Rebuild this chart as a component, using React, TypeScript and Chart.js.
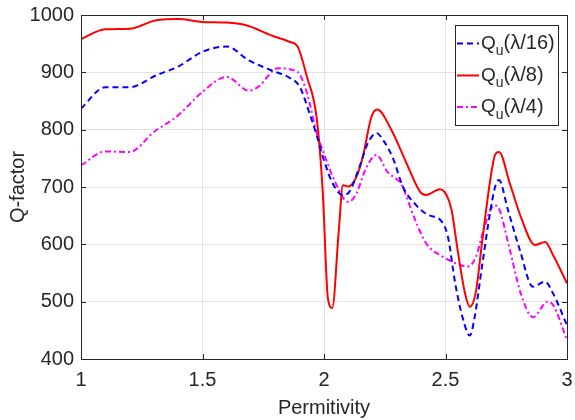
import React, { useEffect, useRef } from "react";
import { Chart, registerables } from "chart.js";

Chart.register(...registerables);

const redX = [1.0, 1.1, 1.2, 1.31, 1.4, 1.5, 1.6, 1.68, 1.78, 1.86, 1.89, 1.93, 1.97, 1.995, 2.016, 2.034, 2.06, 2.078, 2.1, 2.134, 2.16, 2.195, 2.219, 2.278, 2.34, 2.395, 2.42, 2.477, 2.504, 2.525, 2.55, 2.58, 2.6, 2.625, 2.65, 2.683, 2.704, 2.72, 2.765, 2.81, 2.868, 2.91, 2.943, 3.0];
const redY = [958, 975, 976, 991, 993, 988, 987, 982, 965, 953, 946, 892, 820, 690, 506, 489, 619, 703, 701, 718, 753, 822, 835, 799, 741, 692, 686, 696, 686, 660, 590, 515, 491, 517, 602, 709, 756, 761, 706, 648, 599, 604, 581, 532];

const blueX = [1.0, 1.1, 1.2, 1.31, 1.4, 1.5, 1.6, 1.69, 1.78, 1.86, 1.9, 1.94, 1.97, 1.995, 2.036, 2.078, 2.105, 2.146, 2.18, 2.216, 2.243, 2.284, 2.325, 2.38, 2.43, 2.48, 2.51, 2.54, 2.57, 2.6, 2.62, 2.65, 2.683, 2.704, 2.72, 2.757, 2.806, 2.86, 2.91, 2.943, 3.0];
const blueY = [837, 874, 874, 895, 910, 936, 945, 921, 904, 890, 875, 829, 790, 753, 706, 686, 692, 735, 776, 794, 782, 750, 700, 668, 651, 642, 613, 532, 473, 441, 473, 561, 654, 700, 712, 660, 590, 526, 535, 514, 459];

const magX = [1.0, 1.1, 1.2, 1.3, 1.4, 1.5, 1.6, 1.69, 1.73, 1.81, 1.89, 1.93, 1.97, 1.995, 2.036, 2.1, 2.134, 2.17, 2.216, 2.26, 2.32, 2.37, 2.42, 2.49, 2.56, 2.59, 2.625, 2.66, 2.7, 2.72, 2.765, 2.81, 2.86, 2.92, 2.943, 3.0];
const magY = [738, 762, 761, 796, 825, 866, 892, 868, 875, 907, 901, 864, 794, 764, 718, 674, 689, 730, 756, 727, 703, 648, 602, 578, 564, 561, 578, 630, 668, 662, 590, 514, 473, 500, 494, 433];

const xTicks = [1, 1.5, 2, 2.5, 3];
const yTicks = [400, 500, 600, 700, 800, 900, 1000];
const legendLabels = [
  { main: "Q", sub: "u", rest: "(λ/16)" },
  { main: "Q", sub: "u", rest: "(λ/8)" },
  { main: "Q", sub: "u", rest: "(λ/4)" },
];

const FONT = "'Liberation Sans', Arial, Helvetica, sans-serif";
const TEXT = "#262626";

const toPts = (xs: number[], ys: number[]) => xs.map((x, i) => ({ x, y: ys[i] }));

const zeroPad = (s: any) => {
  s.paddingLeft = 0;
  s.paddingRight = 0;
  s.paddingTop = 0;
  s.paddingBottom = 0;
};

const boxPlugin = {
  id: "boxPlugin",
  afterDatasetsDraw(chart: any) {
    const { ctx, chartArea: a, scales } = chart;
    ctx.save();
    ctx.strokeStyle = TEXT;
    ctx.lineWidth = 1;
    ctx.beginPath();
    xTicks.forEach((t) => {
      const px = Math.round(scales.x.getPixelForValue(t)) + 0.5;
      ctx.moveTo(px, a.bottom);
      ctx.lineTo(px, a.bottom - 5);
      ctx.moveTo(px, a.top);
      ctx.lineTo(px, a.top + 5);
    });
    yTicks.forEach((t) => {
      const py = Math.round(scales.y.getPixelForValue(t)) + 0.5;
      ctx.moveTo(a.left, py);
      ctx.lineTo(a.left + 5, py);
      ctx.moveTo(a.right, py);
      ctx.lineTo(a.right - 5, py);
    });
    ctx.stroke();
    ctx.strokeRect(Math.round(a.left) + 0.5, Math.round(a.top) + 0.5, Math.round(a.right - a.left), Math.round(a.bottom - a.top));

    // legend
    const lx = 455, ly = 25, lw = 103, lh = 100;
    ctx.fillStyle = "#ffffff";
    ctx.fillRect(lx, ly, lw, lh);
    ctx.strokeStyle = TEXT;
    ctx.strokeRect(lx + 0.5, ly + 0.5, lw, lh);
    const ds = chart.data.datasets;
    const rows = [43.5, 75.5, 107];
    rows.forEach((ry, i) => {
      const d = ds[i];
      ctx.save();
      ctx.strokeStyle = d.borderColor;
      ctx.lineWidth = 2;
      ctx.setLineDash(d.borderDash || []);
      ctx.beginPath();
      ctx.moveTo(457, ry);
      ctx.lineTo(479, ry);
      ctx.stroke();
      ctx.restore();
      const lab = legendLabels[i];
      ctx.fillStyle = TEXT;
      ctx.textBaseline = "middle";
      ctx.textAlign = "left";
      ctx.font = `19px ${FONT}`;
      let x = 481;
      ctx.fillText(lab.main, x, ry);
      x += ctx.measureText(lab.main).width;
      ctx.font = `14px ${FONT}`;
      ctx.fillText(lab.sub, x, ry + 8);
      x += ctx.measureText(lab.sub).width;
      ctx.font = `20px ${FONT}`;
      ctx.fillText(lab.rest, x, ry);
    });
    ctx.restore();
  },
};

export default function App() {
  const ref = useRef<HTMLCanvasElement>(null);
  useEffect(() => {
    if (!ref.current) return;
    const chart = new Chart(ref.current, {
      type: "line",
      data: {
        datasets: [
          {
            label: "Qu(λ/16)",
            data: toPts(blueX, blueY),
            borderColor: "#0000ff",
            borderWidth: 2,
            borderDash: [6, 4],
            pointRadius: 0,
            cubicInterpolationMode: "monotone",
            fill: false,
          },
          {
            label: "Qu(λ/8)",
            data: toPts(redX, redY),
            borderColor: "#ff0000",
            borderWidth: 2,
            pointRadius: 0,
            cubicInterpolationMode: "monotone",
            fill: false,
          },
          {
            label: "Qu(λ/4)",
            data: toPts(magX, magY),
            borderColor: "#ff00ff",
            borderWidth: 2,
            borderDash: [6, 3, 2, 3],
            pointRadius: 0,
            cubicInterpolationMode: "monotone",
            fill: false,
          },
        ],
      },
      options: {
        animation: false,
        responsive: false,
        devicePixelRatio: 1,
        layout: { padding: { left: 0, top: 15, right: 8, bottom: 0 } },
        plugins: { legend: { display: false }, tooltip: { enabled: false } },
        scales: {
          x: {
            type: "linear",
            min: 1,
            max: 3,
            afterBuildTicks: (s: any) => {
              s.ticks = xTicks.map((v) => ({ value: v }));
            },
            afterFit: (s: any) => {
              s.height = 61;
              zeroPad(s);
            },
            grid: { color: "#e3e3e3", drawTicks: false },
            border: { display: false },
            ticks: {
              color: TEXT,
              font: { family: FONT, size: 20 },
              padding: 9,
              callback: (v: any) => String(v),
            },
            title: {
              display: true,
              text: "Permitivity",
              color: TEXT,
              font: { family: FONT, size: 20 },
              padding: { top: 0, bottom: 0 },
            },
          },
          y: {
            type: "linear",
            min: 400,
            max: 1000,
            afterBuildTicks: (s: any) => {
              s.ticks = yTicks.map((v) => ({ value: v }));
            },
            afterFit: (s: any) => {
              s.width = 81;
              zeroPad(s);
            },
            grid: { color: "#e3e3e3", drawTicks: false },
            border: { display: false },
            ticks: {
              color: TEXT,
              font: { family: FONT, size: 20 },
              padding: 7,
              callback: (v: any) => String(v),
            },
            title: {
              display: true,
              text: "Q-factor",
              color: TEXT,
              font: { family: FONT, size: 20 },
              padding: { top: 6, bottom: 0 },
            },
          },
        },
      },
      plugins: [boxPlugin],
    } as any);
    return () => chart.destroy();
  }, []);
  return (
    <div style={{ position: "fixed", left: 0, top: 0, width: 575, height: 420, background: "#fff" }}>
      <canvas ref={ref} width={575} height={420} style={{ width: 575, height: 420 }} />
    </div>
  );
}
